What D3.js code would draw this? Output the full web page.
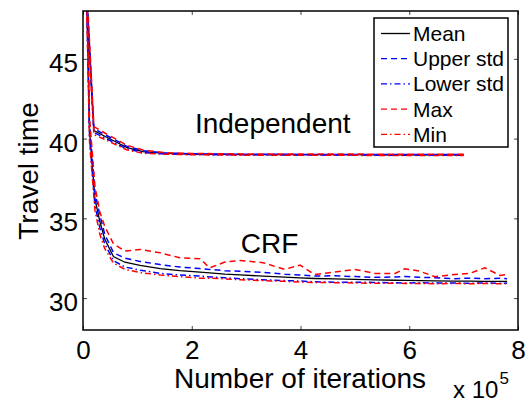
<!DOCTYPE html>
<html>
<head>
<meta charset="utf-8">
<script src="https://cdn.jsdelivr.net/npm/d3@7"></script>
<style>
  body { margin: 0; background: #fff; }
  svg { font-family: "Liberation Sans", Arial, Helvetica, sans-serif; }
</style>
</head>
<body>
<svg id="chart" width="526" height="403"></svg>
<script>
// iterations, in units of 1e5
var indX = [0.05, 0.2, 0.4, 0.6, 0.8, 1.1, 1.5, 2, 2.5, 3, 3.5, 4, 4.5, 5, 5.5, 6, 6.5, 7];
var indMean  = [50, 40.5, 40.15, 39.8, 39.45, 39.18, 39.07, 39.03, 39.01, 39.0, 39.0, 38.99, 38.99, 38.99, 38.98, 38.98, 38.98, 38.98];
var indUpper = [50.4, 40.62, 40.25, 39.9, 39.53, 39.24, 39.1, 39.05, 39.03, 39.02, 39.02, 39.01, 39.01, 39.01, 39.0, 39.0, 39.0, 39.0];
var indLower = [49.6, 40.38, 40.05, 39.7, 39.37, 39.12, 39.04, 39.01, 38.99, 38.98, 38.98, 38.97, 38.97, 38.97, 38.96, 38.96, 38.96, 38.96];
var indMax   = [50.8, 40.75, 40.35, 39.98, 39.6, 39.28, 39.12, 39.07, 39.05, 39.04, 39.04, 39.03, 39.03, 39.03, 39.02, 39.02, 39.02, 39.02];
var indMin   = [49.2, 40.25, 39.95, 39.62, 39.3, 39.08, 39.02, 38.99, 38.97, 38.96, 38.96, 38.95, 38.95, 38.95, 38.94, 38.94, 38.94, 38.94];

var crfX = [0.05, 0.12, 0.22, 0.31, 0.4, 0.56, 0.77, 1.05, 1.42, 1.78, 2.15, 2.33, 2.61, 2.89, 3.31,
            3.71, 3.99, 4.26, 4.63, 5.0, 5.37, 5.74, 5.92, 6.19, 6.47, 6.84, 7.11, 7.39, 7.67, 7.8];
var crfMean  = [52, 40.5, 36.2, 34.8, 33.7, 32.6, 32.25, 32.05, 31.85, 31.72, 31.63, 31.58, 31.5, 31.45, 31.38,
                31.32, 31.27, 31.23, 31.2, 31.17, 31.14, 31.12, 31.11, 31.1, 31.08, 31.07, 31.06, 31.05, 31.05, 31.04];
var crfUpper = [52.5, 40.9, 36.6, 35.2, 34.0, 32.85, 32.5, 32.3, 32.1, 31.95, 31.85, 31.8, 31.72, 31.68, 31.62,
                31.5, 31.45, 31.38, 31.4, 31.35, 31.3, 31.32, 31.36, 31.3, 31.28, 31.22, 31.25, 31.22, 31.24, 31.22];
var crfLower = [51.5, 40.1, 35.8, 34.4, 33.4, 32.35, 31.95, 31.75, 31.55, 31.45, 31.38, 31.33, 31.27, 31.22, 31.15,
                31.1, 31.07, 31.02, 31.0, 31.0, 30.98, 30.96, 30.95, 30.96, 30.94, 30.95, 30.93, 30.95, 30.93, 30.93];
var crfMax   = [53, 41.3, 37.0, 35.4, 34.5, 33.4, 32.95, 33.05, 32.84, 32.53, 32.47, 31.9, 32.26, 32.36, 32.22,
                31.8, 32.07, 31.48, 31.63, 31.8, 31.55, 31.55, 31.84, 31.69, 31.34, 31.48, 31.55, 31.9, 31.42, 31.48];
var crfMin   = [51, 39.8, 35.5, 34.0, 33.1, 32.2, 31.8, 31.6, 31.45, 31.35, 31.25, 31.25, 31.2, 31.15, 31.1,
                31.05, 31.0, 30.98, 30.97, 30.95, 30.93, 30.93, 30.92, 30.92, 30.9, 30.92, 30.9, 30.92, 30.9, 30.9];

var xTicks = [0, 2, 4, 6, 8];
var yTicks = [30, 35, 40, 45];
var legendLabels = ["Mean", "Upper std", "Lower std", "Max", "Min"];

// line styles, same order as legendLabels
var styles = [
    {color: "#000000", dash: null},
    {color: "#0000ff", dash: "6,4"},
    {color: "#0000ff", dash: "6,3,1.5,3"},
    {color: "#ff0000", dash: "6,4"},
    {color: "#ff0000", dash: "6,3,1.5,3"}
];

var svg = d3.select("#chart");
// plot box (note: "top" is taken by window.top)
var pLeft = 83, pRight = 518, pTop = 11, pBottom = 330;

var x = d3.scaleLinear().domain([0, 8]).range([pLeft, pRight]);
var y = d3.scaleLinear().domain([28, 48]).range([pBottom, pTop]);

svg.append("clipPath").attr("id", "plotclip")
    .append("rect").attr("x", pLeft).attr("y", pTop)
    .attr("width", pRight - pLeft).attr("height", pBottom - pTop);

var plot = svg.append("g").attr("clip-path", "url(#plotclip)");

var line = d3.line().x(function (d) { return x(d[0]); }).y(function (d) { return y(d[1]); });

function drawSet(xs, sets) {
    sets.forEach(function (vals, i) {
        plot.append("path")
            .datum(xs.map(function (v, j) { return [v, vals[j]]; }))
            .attr("d", line)
            .attr("fill", "none")
            .attr("stroke", styles[i].color)
            .attr("stroke-width", i == 0 ? 1.3 : 1.5)
            .attr("stroke-dasharray", styles[i].dash);
    });
}
drawSet(indX, [indMean, indUpper, indLower, indMax, indMin]);
drawSet(crfX, [crfMean, crfUpper, crfLower, crfMax, crfMin]);

// axes (ticks inside, matlab-like box)
var tickLen = 4;
var gx = svg.append("g").attr("transform", "translate(0," + pBottom + ")")
    .call(d3.axisBottom(x).tickValues(xTicks).tickSizeInner(-tickLen).tickSizeOuter(0).tickPadding(11));
var gy = svg.append("g").attr("transform", "translate(" + pLeft + ",0)")
    .call(d3.axisLeft(y).tickValues(yTicks).tickSizeInner(-tickLen).tickSizeOuter(0).tickPadding(5));
var gt = svg.append("g").attr("transform", "translate(0," + pTop + ")")
    .call(d3.axisTop(x).tickValues(xTicks).tickSizeInner(-tickLen).tickSizeOuter(0).tickFormat(""));
var gr = svg.append("g").attr("transform", "translate(" + pRight + ",0)")
    .call(d3.axisRight(y).tickValues(yTicks).tickSizeInner(-tickLen).tickSizeOuter(0).tickFormat(""));

[gx, gy, gt, gr].forEach(function (g) {
    g.select(".domain").remove();
    g.selectAll(".tick line").attr("stroke", "#444");
    g.selectAll("text").attr("font-size", 26).attr("fill", "#000");
    g.attr("font-family", null).attr("font-size", null);
});
gy.selectAll("text").attr("dy", "0.48em");

svg.append("rect")
    .attr("x", pLeft).attr("y", pTop)
    .attr("width", pRight - pLeft).attr("height", pBottom - pTop)
    .attr("fill", "none").attr("stroke", "#000").attr("stroke-width", 1.5);

// curve labels
svg.append("text").attr("x", x(3.49)).attr("y", y(40.38))
    .attr("text-anchor", "middle").attr("font-size", 28).text("Independent");
svg.append("text").attr("x", x(3.43)).attr("y", y(32.85))
    .attr("text-anchor", "middle").attr("font-size", 28).text("CRF");

// axis titles
svg.append("text").attr("x", 300).attr("y", 388)
    .attr("text-anchor", "middle").attr("font-size", 28).text("Number of iterations");
svg.append("text").attr("transform", "translate(38,171) rotate(-90)")
    .attr("text-anchor", "middle").attr("font-size", 28).text("Travel time");

var expo = svg.append("text").attr("x", 453).attr("y", 398).attr("font-size", 24);
expo.append("tspan").text("x 10");
expo.append("tspan").attr("font-size", 17).attr("dy", -14).attr("dx", 1).text("5");

// legend
var lg = svg.append("g");
lg.append("rect").attr("x", 374).attr("y", 18).attr("width", 134).attr("height", 129)
    .attr("fill", "#fff").attr("stroke", "#000").attr("stroke-width", 1.5);
legendLabels.forEach(function (lab, i) {
    var ly = 33.5 + i * 25.2;
    lg.append("line").attr("x1", 381).attr("x2", 410).attr("y1", ly).attr("y2", ly)
        .attr("stroke", styles[i].color).attr("stroke-width", 1.3)
        .attr("stroke-dasharray", styles[i].dash);
    lg.append("text").attr("x", 413).attr("y", ly).attr("dy", "0.36em")
        .attr("font-size", 21).text(lab);
});
</script>
</body>
</html>
